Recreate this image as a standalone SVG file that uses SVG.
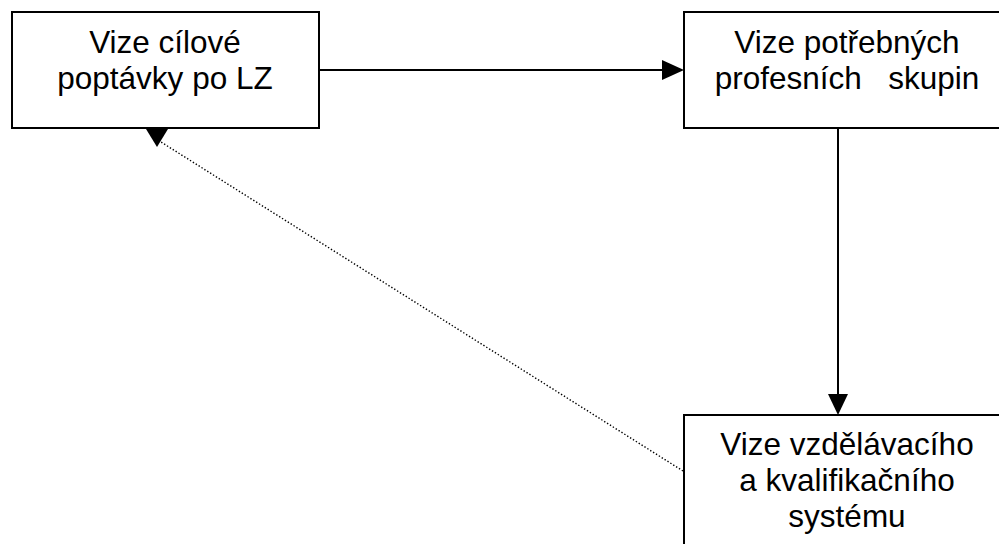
<svg xmlns="http://www.w3.org/2000/svg" width="999" height="544" viewBox="0 0 999 544">
  <style>
    .box { fill: #ffffff; stroke: #000000; stroke-width: 2; }
    .lbl { font-family: "Liberation Sans", Arial, sans-serif; font-size: 31.5px; fill: #000000; text-anchor: middle; white-space: pre; }
    .link { fill: none; stroke: #000000; stroke-width: 2; }
    .dots { fill: none; stroke: #000000; stroke-width: 1.4; stroke-dasharray: 1.4 2; }
    .head { fill: #000000; stroke: none; }
  </style>
  <rect width="999" height="544" fill="#ffffff"/>

  <g id="connectors">
    <line class="link" x1="320" y1="70" x2="663" y2="70"/>
    <polygon class="head" points="684,70 662,60 662,80"/>
    <line class="link" x1="838" y1="128" x2="838" y2="395"/>
    <polygon class="head" points="838,415 828,394 848,394"/>
    <line class="dots" x1="683" y1="471" x2="161" y2="142"/>
    <polygon class="head" points="146,129 168,129 157,147"/>
  </g>

  <g id="node-poptavka">
    <rect class="box" x="12" y="12" width="307" height="116"/>
    <text class="lbl" x="165" y="53">Vize cílové</text>
    <text class="lbl" x="165" y="89">poptávky po LZ</text>
  </g>

  <g id="node-skupiny">
    <rect class="box" x="684" y="12" width="330" height="116"/>
    <text class="lbl" x="847" y="53">Vize potřebných</text>
    <text class="lbl" x="847" y="89">profesních   skupin</text>
  </g>

  <g id="node-system">
    <rect class="box" x="684" y="415" width="330" height="140"/>
    <text class="lbl" x="847" y="455">Vize vzdělávacího</text>
    <text class="lbl" x="847" y="491">a kvalifikačního</text>
    <text class="lbl" x="847" y="527">systému</text>
  </g>
</svg>
